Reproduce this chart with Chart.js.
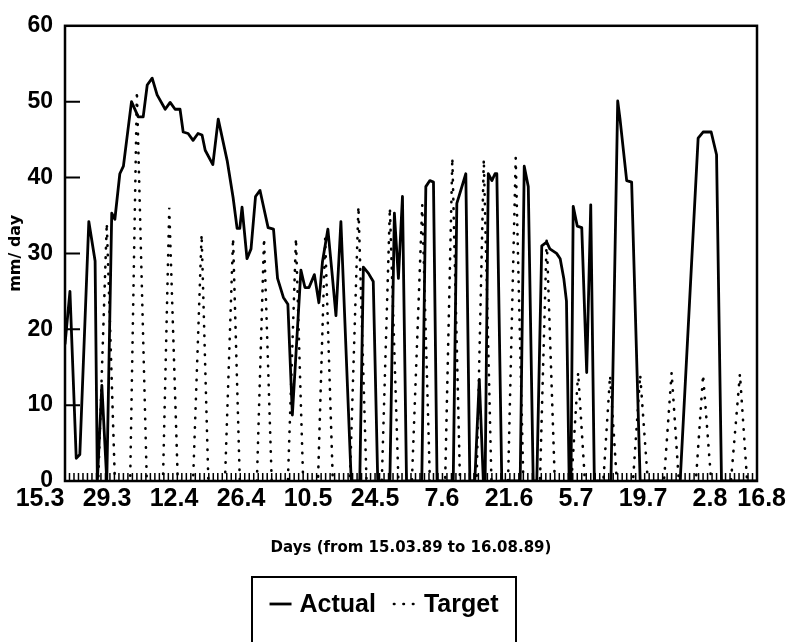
<!DOCTYPE html>
<html>
<head>
<meta charset="utf-8">
<title>Actual vs Target irrigation, 15.03.89 - 16.08.89</title>
<script src="https://cdn.jsdelivr.net/npm/chart.js"></script>
<style>
  html, body { margin: 0; padding: 0; background: #fff; }
</style>
</head>
<body>
<canvas id="chart" width="788" height="642"></canvas>
<script>
// axis labels, every 14 days starting 15.03.89
const dateLabels = ['15.3', '29.3', '12.4', '26.4', '10.5', '24.5', '7.6', '21.6', '5.7', '19.7', '2.8', '16.8'];
const totalDays = 154;

// Actual: day offset from 15.03.89 and mm/day
const actualDays = [
  0, 1.1, 2.5, 3.3, 5.3, 6.7, 7.2, 8.2, 9.3, 10.4,
  11.1, 12.2, 13.0, 14.8, 16.3, 17.4, 18.3, 19.4, 20.5, 22.3,
  23.4, 24.5, 25.6, 26.3, 27.4, 28.5, 29.6, 30.5, 31.2, 32.9,
  34.1, 36.1, 37.4, 38.3, 38.9, 39.4, 40.5, 41.4, 42.4, 43.4,
  44.5, 45.2, 46.4, 47.3, 48.6, 49.6, 50.6, 52.5, 53.4, 54.3,
  55.5, 56.5, 57.3, 58.5, 59.4, 60.3, 61.4, 63.7, 65.6, 66.4,
  67.5, 68.6, 69.6, 72.3, 73.3, 74.2, 75.1, 76.0, 79.4, 80.3,
  81.2, 82.0, 82.8, 86.4, 87.2, 89.2, 90.1, 91.2, 92.2, 93.1,
  93.5, 94.2, 95.0, 95.7, 96.1, 97.2, 101.3, 102.2, 103.1, 104.2,
  105.0, 106.1, 107.2, 107.9, 109.4, 110.2, 111.0, 111.6, 112.2, 112.6,
  113.1, 114.0, 115.0, 116.1, 117.0, 117.8, 121.5, 123.0, 123.5, 125.0,
  126.1, 128.0, 136.9, 140.9, 142.0, 143.8, 145.0, 146.1, 154
];
const actualMm = [
  18, 25, 3, 3.5, 34.2, 29, 0, 12.6, 0, 35.3,
  34.5, 40.5, 41.5, 50, 48, 48, 52.2, 53.1, 50.9, 49,
  49.9, 49, 49, 46, 45.8, 44.9, 45.8, 45.6, 43.6, 41.7,
  47.7, 42.2, 37.4, 33.3, 33.3, 36.1, 29.3, 30.6, 37.5, 38.3,
  35.3, 33.4, 33.2, 26.7, 24.2, 23.3, 8.7, 27.8, 25.5, 25.5,
  27.2, 23.5, 28.9, 33.2, 27.6, 21.8, 34.2, 0, 0, 28.2,
  27.4, 26.3, 0, 0, 35.3, 26.7, 37.5, 0, 0, 38.8,
  39.6, 39.4, 0, 0, 36.6, 40.5, 0, 0, 13.4, 0,
  0, 40.5, 39.6, 40.5, 40.5, 0, 0, 41.5, 38.8, 0,
  0, 31, 31.5, 30.6, 30, 29.3, 26.7, 23.7, 0, 0,
  36.2, 33.6, 33.4, 14.3, 36.4, 0, 0, 50.1, 47.8, 39.6,
  39.4, 0, 0, 45.2, 46, 46, 43, 0, 0
];

// Target: weekly applications, each rising from zero and back
const targetDays = [
  0,
  7.4, 9.3, 11.1,
  14.5, 16.0, 18.2,
  21.8, 23.2, 25.1,
  28.5, 30.4, 31.9,
  35.6, 37.4, 38.9,
  42.7, 44.3, 46.0,
  49.6, 51.4, 53.0,
  56.3, 57.9, 59.6,
  63.4, 65.3, 67.1,
  70.5, 72.3, 74.2,
  77.2, 79.5, 81.2,
  84.6, 86.2, 87.9,
  91.6, 93.2, 94.9,
  98.6, 100.3, 102.0,
  105.7, 107.2, 109.0,
  112.7, 114.2, 115.7,
  119.8, 121.3, 122.8,
  126.4, 128.0, 129.7,
  133.3, 135.0, 136.6,
  140.4, 142.0, 143.8,
  148.2, 150.2, 151.8,
  154
];
const targetMm = [
  0,
  0, 34, 0,
  0, 51.4, 0,
  0, 36, 0,
  0, 32.5, 0,
  0, 32, 0,
  0, 32, 0,
  0, 32, 0,
  0, 32, 0,
  0, 36.2, 0,
  0, 36, 0,
  0, 36.4, 0,
  0, 42.6, 0,
  0, 42.4, 0,
  0, 42.6, 0,
  0, 32.1, 0,
  0, 14.3, 0,
  0, 13.9, 0,
  0, 14, 0,
  0, 14.3, 0,
  0, 14, 0,
  0, 14.1, 0,
  0
];

const FONT = "'Liberation Sans', Arial, sans-serif";
const TITLE_FONT = "'DejaVu Sans', Verdana, sans-serif";

const toPoints = (xs, ys) => xs.map((d, i) => ({ x: d, y: ys[i] }));

// box, inward tick marks, date labels and the boxed legend
const frame = {
  id: 'frame',
  afterDraw(chart) {
    const { ctx, chartArea: a, scales: { x, y } } = chart;
    ctx.save();
    ctx.strokeStyle = '#000';
    ctx.fillStyle = '#000';

    // one tick per day on the bottom axis
    ctx.lineWidth = 1.5;
    ctx.beginPath();
    for (let d = 0; d <= totalDays; d++) {
      const px = x.getPixelForValue(d);
      ctx.moveTo(px, a.bottom);
      ctx.lineTo(px, a.bottom - 8);
    }
    ctx.stroke();

    ctx.lineWidth = 2;
    ctx.beginPath();
    for (let v = 10; v < 60; v += 10) {
      const py = y.getPixelForValue(v);
      ctx.moveTo(a.left, py);
      ctx.lineTo(a.left + 15, py);
    }
    ctx.stroke();

    ctx.lineWidth = 2.5;
    ctx.strokeRect(a.left, a.top, a.width, a.height);

    // date labels on an even spacing a little wider than the plot,
    // the last one held inside the canvas
    ctx.font = 'bold 25px ' + FONT;
    ctx.textAlign = 'center';
    ctx.textBaseline = 'middle';
    const step = (a.width + 45) / (dateLabels.length - 1);
    dateLabels.forEach((t, i) => {
      const w = ctx.measureText(t).width;
      const cx = Math.min(a.left - 25 + step * i, chart.width - 2 - w / 2);
      ctx.fillText(t, cx, a.bottom + 18);
    });

    // legend
    const box = { left: 252, top: 577, width: 264 };
    ctx.lineWidth = 2;
    ctx.strokeRect(box.left, box.top, box.width, 100);
    ctx.font = 'bold 25px ' + FONT;
    ctx.textAlign = 'left';
    const sw = 22, gap = 8, between = 18;
    const items = chart.data.datasets.map(ds => ({ ds, w: ctx.measureText(ds.label).width }));
    const total = items.reduce((s, it) => s + sw + gap + it.w, 0) + between * (items.length - 1);
    let cx = box.left + (box.width - total) / 2;
    const cy = box.top + 27;
    items.forEach(({ ds, w }) => {
      ctx.save();
      ctx.lineWidth = ds.borderWidth;
      ctx.lineCap = ds.borderCapStyle || 'butt';
      ctx.setLineDash(ds.borderDash || []);
      ctx.beginPath();
      ctx.moveTo(cx, cy);
      ctx.lineTo(cx + sw, cy);
      ctx.stroke();
      ctx.restore();
      ctx.fillText(ds.label, cx + sw + gap, cy + 1);
      cx += sw + gap + w + between;
    });
    ctx.restore();
  }
};

new Chart(document.getElementById('chart'), {
  type: 'line',
  data: {
    datasets: [
      {
        label: 'Actual',
        data: toPoints(actualDays, actualMm),
        borderColor: '#000',
        borderWidth: 2.8,
        borderJoinStyle: 'round',
        pointRadius: 0,
        tension: 0
      },
      {
        label: 'Target',
        data: toPoints(targetDays, targetMm),
        borderColor: '#000',
        borderWidth: 2.6,
        borderDash: [0.5, 9],
        borderCapStyle: 'round',
        pointRadius: 0,
        tension: 0
      }
    ]
  },
  options: {
    responsive: false,
    animation: false,
    layout: { padding: { left: 0, top: 16, right: 31, bottom: 0 } },
    plugins: {
      legend: { display: false },
      tooltip: { enabled: false }
    },
    scales: {
      x: {
        type: 'linear',
        min: 0,
        max: totalDays,
        grid: { display: false, drawTicks: false },
        border: { display: false },
        ticks: { display: false },
        title: {
          display: true,
          text: 'Days (from 15.03.89 to 16.08.89)',
          color: '#000',
          font: { family: TITLE_FONT, size: 15, weight: 'bold' },
          padding: { top: 0, bottom: 85 }
        },
        afterFit(scale) { scale.height = 161; }
      },
      y: {
        min: 0,
        max: 60,
        grid: { display: false, drawTicks: false },
        border: { display: false },
        ticks: {
          stepSize: 10,
          padding: 12,
          color: '#000',
          font: { family: FONT, size: 23, weight: 'bold' }
        },
        title: {
          display: true,
          text: 'mm/ day',
          color: '#000',
          font: { family: TITLE_FONT, size: 16, weight: 'bold' },
          padding: { top: 6, bottom: 0 }
        },
        afterFit(scale) { scale.width = 65; }
      }
    }
  },
  plugins: [frame]
});
</script>
</body>
</html>
